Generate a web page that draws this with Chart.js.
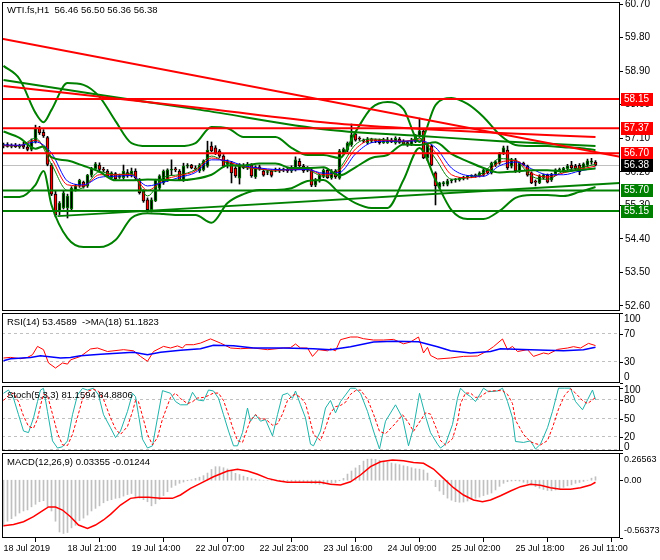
<!DOCTYPE html>
<html>
<head>
<meta charset="utf-8">
<title>WTI.fs H1</title>
<script src="https://cdn.jsdelivr.net/npm/chart.js@4.4.1/dist/chart.umd.min.js"></script>
<style>
  html, body { margin: 0; padding: 0; background: #fff; }
  #wrap { position: relative; width: 660px; height: 560px; overflow: hidden; }
  #wrap canvas { position: absolute; left: 0; }
  .hdr { position: absolute; left: 7px; font: 9.5px "Liberation Sans", Arial, sans-serif; color: #000; white-space: pre; line-height: 12px; }
</style>
</head>
<body>
<div id="wrap">
  <canvas id="mainPane" width="660" height="313" style="top:0"></canvas>
  <canvas id="rsiPane" width="660" height="73" style="top:312px"></canvas>
  <canvas id="stochPane" width="660" height="68" style="top:385px"></canvas>
  <canvas id="macdPane" width="660" height="108" style="top:452px"></canvas>
  <div class="hdr" id="mainHdr" style="top:4px"></div>
  <div class="hdr" id="rsiHdr" style="top:316px"></div>
  <div class="hdr" id="stochHdr" style="top:389px"></div>
  <div class="hdr" id="macdHdr" style="top:456px"></div>
</div>
<script>
const FONT = '"Liberation Sans", Arial, sans-serif';
// bar index range shown (4px per H1 bar)
const X_MIN = -0.375, X_MAX = 154.125;

// ---- H1 candles, one per bar ----
const opens = [56.90,56.93,56.88,56.91,56.87,56.91,56.86,56.80,57.00,57.37,
 57.26,57.12,56.38,55.60,55.12,55.23,55.23,55.20,55.72,55.82,
 55.92,55.82,56.11,56.28,56.38,56.26,56.22,56.04,56.15,56.05,
 56.04,56.18,56.12,56.22,55.98,55.68,55.45,55.18,55.42,55.76,
 55.90,55.98,56.24,56.26,56.22,55.98,56.35,56.38,56.30,56.22,
 56.25,56.35,56.89,56.84,56.76,56.62,56.40,56.43,56.30,56.03,
 56.36,56.31,56.38,56.06,56.33,56.22,56.18,56.22,56.24,56.24,
 56.25,56.26,56.22,56.25,56.48,56.35,56.30,56.25,55.84,55.95,
 56.08,56.24,56.04,56.22,56.03,56.70,56.78,56.92,57.21,57.10,
 57.04,56.98,57.02,57.06,57.04,56.98,56.98,57.06,56.98,57.08,
 57.02,56.98,56.92,57.00,57.16,57.29,56.57,56.89,56.17,55.78,
 55.88,55.86,55.96,55.98,55.99,56.03,56.05,56.08,56.10,56.09,
 56.11,56.24,56.17,56.38,56.43,56.70,56.78,56.35,56.52,56.22,
 56.43,56.35,56.17,55.94,55.90,56.04,56.11,55.98,56.14,56.24,
 56.22,56.28,56.38,56.36,56.37,56.30,56.38,56.46,56.46];
const highs = [56.97,56.98,56.95,56.96,56.94,56.99,56.92,57.08,57.45,57.42,
 57.33,57.15,56.42,55.68,55.40,55.68,55.60,55.80,55.86,56.00,
 55.95,56.13,56.32,56.45,56.44,56.32,56.26,56.20,56.18,56.14,
 56.38,56.26,56.30,56.28,56.02,55.72,55.50,55.50,56.00,56.12,
 56.25,56.28,56.52,56.32,56.26,56.43,56.42,56.40,56.36,56.42,
 56.52,57.02,57.00,56.90,56.80,56.66,56.52,56.48,56.34,56.42,
 56.42,56.45,56.42,56.36,56.38,56.26,56.24,56.25,56.30,56.30,
 56.30,56.30,56.36,56.60,56.55,56.40,56.34,56.30,56.02,56.14,
 56.28,56.28,56.26,56.26,56.80,56.84,57.00,57.48,57.26,57.14,
 57.08,57.12,57.10,57.08,57.08,57.10,57.12,57.10,57.14,57.12,
 57.06,57.02,57.10,57.20,57.64,57.34,56.96,56.92,56.20,55.92,
 55.94,56.00,56.00,56.02,56.05,56.08,56.10,56.12,56.14,56.20,
 56.28,56.28,56.46,56.50,56.72,56.89,56.89,56.56,56.56,56.46,
 56.46,56.38,56.20,55.98,56.12,56.14,56.14,56.16,56.28,56.30,
 56.32,56.40,56.48,56.40,56.42,56.44,56.54,56.56,56.50];
const lows = [56.84,56.86,56.84,56.85,56.83,56.82,56.76,56.76,56.97,57.20,
 57.12,56.36,55.56,54.99,55.05,55.20,54.96,55.15,55.68,55.78,
 55.76,55.78,56.06,56.25,56.22,56.20,56.06,56.00,55.98,56.02,
 56.00,56.05,56.06,55.98,55.60,55.38,55.12,55.12,55.40,55.72,
 55.86,55.94,56.10,56.20,55.96,55.94,56.30,56.28,56.24,56.18,
 56.22,56.32,56.74,56.66,56.58,56.32,56.30,55.90,56.05,55.87,
 56.28,56.26,56.05,56.02,56.24,56.08,56.12,56.06,56.20,56.18,
 56.20,56.18,56.18,56.22,56.32,56.18,56.20,55.80,55.80,55.92,
 56.04,56.02,56.00,56.02,56.00,56.66,56.74,56.88,57.02,57.04,
 56.98,56.94,56.98,56.98,56.94,56.96,56.96,56.98,56.94,56.96,
 56.92,56.88,56.90,56.98,57.12,56.55,56.50,56.36,55.31,55.74,
 55.82,55.82,55.90,55.92,55.95,55.98,56.00,56.04,56.05,56.06,
 56.08,56.14,56.14,56.34,56.40,56.66,56.26,56.30,56.18,56.18,
 56.36,56.08,55.88,55.82,55.88,56.00,55.90,55.94,56.10,56.20,
 56.18,56.24,56.26,56.24,56.12,56.26,56.34,56.40,56.36];
const closes = [56.93,56.88,56.91,56.87,56.91,56.86,56.80,57.02,57.37,57.24,
 57.16,56.40,55.60,55.05,55.36,55.63,55.55,55.76,55.82,55.97,
 55.80,56.11,56.30,56.41,56.26,56.24,56.09,56.17,56.01,56.10,
 56.22,56.10,56.22,56.04,55.64,55.42,55.18,55.45,55.98,56.09,
 56.22,56.25,56.26,56.25,55.98,56.35,56.38,56.30,56.27,56.38,
 56.49,56.78,56.76,56.70,56.62,56.35,56.47,56.17,56.09,56.38,
 56.31,56.40,56.09,56.33,56.28,56.11,56.20,56.10,56.26,56.22,
 56.26,56.22,56.32,56.52,56.36,56.22,56.24,55.84,55.98,56.11,
 56.24,56.04,56.20,56.06,56.76,56.81,56.97,57.19,57.05,57.08,
 57.02,57.08,57.08,57.02,56.98,57.06,57.06,57.00,57.10,56.99,
 56.94,56.92,57.06,57.16,57.30,56.57,56.92,56.38,55.82,55.90,
 55.90,55.96,55.98,55.99,56.03,56.05,56.08,56.10,56.09,56.17,
 56.25,56.17,56.43,56.47,56.70,56.84,56.30,56.52,56.22,56.43,
 56.39,56.11,55.90,55.92,56.09,56.12,55.92,56.14,56.25,56.27,
 56.30,56.36,56.30,56.28,56.20,56.41,56.49,56.46,56.38];

// ---- time axis ----
const timeTickBars = [0,16,32,48,64,80,96,112,128,144];
const timeLabels = ['18 Jul 2019','18 Jul 21:00','19 Jul 14:00','22 Jul 07:00','22 Jul 23:00',
  '23 Jul 16:00','24 Jul 09:00','25 Jul 02:00','25 Jul 18:00','26 Jul 11:00'];
const priceTicks = [52.60,53.50,54.40,55.30,56.20,57.10,58.00,58.90,59.80,60.70];

// ---- chart objects ----
const redLevels = [58.15, 57.37, 56.70];
const greenLevels = [55.70, 55.15];
const redTrendBars = [X_MIN, X_MAX];
const redTrend = [59.77, 56.60];
const greenTrendBars = [13.5, X_MAX];
const greenTrend = [55.01, 55.90];

// ---- Bollinger bands ----
const bandBars = [0,4,8,10,12,16,20,24,28,32,36,40,44,48,52,56,60,64,68,72,76,80,84,88,92,96,100,104,108,112,116,120,124,128,132,136,140,144,148];
const bbUpper = [59.04,58.69,57.78,57.53,57.86,58.58,58.53,58.21,57.56,56.97,56.89,56.89,56.89,56.97,57.40,57.37,57.13,57.13,57.13,56.84,56.65,56.65,56.57,57.27,57.91,58.07,57.88,57.00,57.99,58.18,58.02,57.67,57.20,56.92,56.89,56.89,56.86,56.84,56.78];
const bbMiddle = [57.28,57.11,56.82,56.88,56.59,56.50,56.36,56.20,55.97,55.97,55.99,55.98,55.97,56.01,56.12,56.37,56.37,56.42,56.42,56.30,56.30,56.32,56.10,56.32,56.57,56.65,56.93,56.92,56.99,56.68,56.48,56.30,56.18,56.21,56.24,56.24,56.21,56.25,56.29];
const bbLower = [55.52,55.52,55.85,56.22,55.31,54.42,54.18,54.18,54.37,54.96,55.09,55.07,55.04,55.04,54.83,55.36,55.60,55.71,55.71,55.76,55.95,55.98,55.63,55.36,55.23,55.23,55.98,56.84,55.98,55.17,54.93,54.93,55.15,55.50,55.58,55.58,55.55,55.66,55.79];

// ---- long moving averages ----
const longGreenBars = [0,24.25,49.25,81.75,104.25,124.25,148];
const longGreen = [58.66,58.26,57.86,57.32,57.16,57.02,56.89];
const longRedBars = [0,49.25,81.75,104.25,124.25,148];
const longRed = [58.50,57.91,57.51,57.35,57.24,57.13];

// ---- short moving averages ----
const maBars = [0,4,8,12,16,20,24,28,32,36,40,44,48,52,56,60,64,68,72,76,80,84,88,92,96,100,104,108,112,116,120,124,128,132,136,140,144,148];
const maFast = [56.90,56.90,57.10,56.40,55.70,55.78,56.20,56.12,56.15,55.55,56.05,56.12,56.26,56.62,56.43,56.32,56.27,56.22,56.28,56.25,56.08,56.30,56.93,57.08,57.05,57.00,57.10,56.55,56.00,56.04,56.18,56.55,56.50,56.08,56.00,56.22,56.30,56.40];
const maMid = [56.90,56.90,57.05,56.55,55.85,55.82,56.12,56.12,56.12,55.70,55.98,56.10,56.22,56.57,56.47,56.34,56.28,56.24,56.26,56.26,56.12,56.24,56.81,57.05,57.04,57.02,57.06,56.72,56.12,56.04,56.12,56.45,56.50,56.16,56.06,56.17,56.27,56.35];
const maSlow = [56.92,56.91,57.00,56.70,55.95,55.85,56.05,56.08,56.10,55.82,55.92,56.05,56.18,56.52,56.50,56.36,56.30,56.26,56.25,56.26,56.16,56.18,56.68,56.98,57.02,57.02,57.03,56.85,56.30,56.10,56.08,56.36,56.46,56.28,56.12,56.12,56.22,56.30];

// ---- RSI(14) and its MA(18) ----
const rsiBars = [0,1.75,4.25,6,7.25,8.5,10,11.25,13,14.75,16,16.75,19.25,21.75,23.5,26,30,32.5,34.25,36,
 37.5,40,41.75,43.5,44.75,45.5,47.5,49.25,51.75,54.25,56.75,59.25,62.5,66,70,71.75,73,74.25,76,77.25,
 78.75,81,81.75,83,84.25,86.75,88.5,90,92.5,95,97.5,100,101.75,103.75,105,106,106.75,108.5,111.75,115,
 118.5,121,122.5,124.75,126,127.25,128.5,131,132.5,135,136.25,138.5,141,142.5,144.25,146.25,148];
const rsiValues = [35.7,36.6,34.7,36.6,40.4,52.3,47.6,28.6,21.4,28.6,27,33,38,48.6,50,45,47.6,46,38,31,
 45,52.3,50,53,50,54.7,54.7,57,63,57,50,49,50,47.6,50,50.5,55.7,50,50,38,
 47.6,46,49,46,61.9,65.7,65.7,63.3,61.4,61.4,62.3,56,58.6,65.7,42.9,50.9,39.4,34.3,35.7,38,
 38.6,46,51.9,62.9,47.6,52.3,45,47.6,38,42.9,41.4,48,50,51.9,50,56.6,53.46];
const rsiMaBars = [0,1.75,6.75,9.25,14.25,16.75,19.25,24.25,32.5,36,39.25,44.25,49.25,52.5,57.5,62.5,70,77.5,81.75,86.75,92.5,97.5,103.75,108.5,111.75,116.75,121.75,124.25,131.75,140,145,148];
const rsiMa = [31.9,34.7,36.6,39,35.7,36.6,39,41,43.8,40.4,43.8,46.7,49,53.8,53.3,50,50,49,47.6,51.9,58.6,59.5,59,51.9,46,42.9,45,49,47.6,46,47.6,51.18];
const rsiTicks = [100, 70, 30, 0];
const rsiLevels = [70, 30];

// ---- Stochastic(5,3,3) ----
const stochBars = [0,1.25,2.5,3.75,5,6.25,7.5,8.5,9.25,10,
 11,12.25,13.5,14.75,16,17.25,18.5,19.75,21,22.5,
 23.75,25,26.75,28,29.25,31,32.25,33,33.75,34.75,
 36,37.25,38.5,39.75,41.75,43,44.25,46,47.25,48.5,
 50,51.25,52.5,53.75,55,56.25,57.5,58.5,59.75,61,
 61.75,63,64.25,65.5,67.25,68.5,69.75,71,72.25,73,
 74.25,75.5,76.75,77.5,79.25,80.5,81.75,83,84.25,85.5,
 86.75,88,89.25,91,92.5,94,95.5,98,99.75,101.25,
 102.5,104,105.5,106.75,108.5,109.25,110.5,112.25,113.5,114.25,
 115.5,116.75,118,119.25,120,121.25,123.5,124.75,126,127.25,
 128,130,131.75,133,134.25,136,137.25,138.75,140.25,141.75,
 143,144.75,146,147.25,148];
const stochK = [91.7,97,83.7,57,30.5,27.9,51.8,78.3,97,99.7,
 61.9,14.5,2.9,5,14.5,57,89,99.7,97,100,
 89,57,35.9,19.9,30.5,62.4,91.7,86.3,57,17.2,
 2.9,6.5,51.8,96,91.7,78.3,73,73,93.3,81,
 79.4,97,95.4,83.7,57,30.5,6.5,6.5,27.9,67.8,
 46.4,57,46.4,49.1,22.5,57,89,91.7,83.7,95.4,
 73,51.8,9.2,6.5,30.5,67.8,80,59.8,78.3,89,
 100,99.7,91.7,62.4,30.5,1.3,46.4,73,51.8,6.5,
 35.9,91.7,54.4,27.9,9.2,2.9,9.2,41.1,83.7,100,
 91.7,86.3,78.3,91.7,100,94.3,95.4,100,78.3,51.8,
 13.5,12,14.5,1.3,9.2,35.9,62.4,100,100,100,
 78.3,65,81,97,81.16];
const stochD = [80,88,92,78,55,38,35,50,72,90,
 88,58,27,8,7,25,53,82,95,98,
 95,82,52,34,25,38,62,80,78,55,
 25,8,20,50,85,92,83,75,78,84,
 85,88,92,92,80,57,32,15,12,35,
 48,57,50,50,40,42,58,80,88,90,
 85,75,45,25,15,36,60,70,72,77,
 90,96,97,82,58,30,26,43,57,44,
 30,45,60,58,30,15,8,18,45,75,
 92,92,85,86,90,95,96,96,90,75,
 48,25,13,10,8,15,36,66,88,99,
 92,80,75,81,84.88];
const stochTicks = [100, 80, 50, 20, 0];
const stochLevels = [80, 50, 20, 0];

// ---- MACD(12,26,9): histogram per bar, signal line ----
const macdHist = [-0.45,-0.40,-0.375,-0.35,-0.32,-0.30,-0.29,-0.26,-0.235,-0.21,
 -0.20,-0.26,-0.30,-0.40,-0.505,-0.52,-0.51,-0.465,-0.44,-0.395,
 -0.37,-0.34,-0.30,-0.275,-0.25,-0.22,-0.20,-0.19,-0.177,-0.172,
 -0.155,-0.14,-0.13,-0.16,-0.175,-0.19,-0.21,-0.25,-0.23,-0.19,
 -0.15,-0.112,-0.07,-0.05,-0.03,-0.018,-0.005,0.005,0.018,0.03,
 0.045,0.07,0.105,0.132,0.132,0.122,0.11,0.095,0.067,0.055,
 0.04,0.028,0.016,0.009,0.003,0.0,0.0,-0.002,-0.004,-0.006,
 -0.008,-0.01,-0.012,-0.014,-0.015,-0.02,-0.025,-0.03,-0.035,-0.04,
 -0.038,-0.033,-0.03,-0.022,-0.005,0.018,0.06,0.09,0.12,0.145,
 0.187,0.205,0.207,0.203,0.195,0.187,0.177,0.168,0.16,0.152,
 0.141,0.134,0.122,0.112,0.108,0.10,0.07,0.0,-0.063,-0.105,
 -0.14,-0.175,-0.195,-0.21,-0.215,-0.213,-0.203,-0.19,-0.177,-0.165,
 -0.15,-0.138,-0.125,-0.095,-0.06,-0.03,-0.015,-0.008,-0.005,-0.008,
 -0.02,-0.03,-0.045,-0.063,-0.078,-0.09,-0.1,-0.103,-0.095,-0.083,
 -0.07,-0.055,-0.045,-0.03,-0.022,-0.012,0.0,0.02,0.034];
const macdSigBars = [0,2.5,5,7.5,10,11.25,13,14.75,16.75,18.75,21,23,25,26.75,29.25,31.75,33.75,36.25,39.25,42.25,
 44.25,46.75,49.25,52.5,56,58.5,61,63.5,66,68.5,71,79.25,81.75,84.25,86.75,89.25,91.75,94.25,97.25,100,
 102.5,105,107.5,110,112.5,115,117.5,119.75,121.75,124.25,126.75,129.25,131.75,134.25,136.75,139.25,141.75,144.25,146.75,148];
const macdSignal = [-0.444,-0.431,-0.405,-0.356,-0.291,-0.261,-0.261,-0.291,-0.356,-0.437,-0.47,-0.437,-0.388,-0.333,-0.242,-0.177,-0.167,-0.167,-0.177,-0.177,
 -0.144,-0.079,-0.03,0.034,0.09,0.106,0.09,0.058,0.018,-0.005,-0.02,-0.02,-0.04,-0.047,-0.015,0.051,0.132,0.18,0.197,0.19,
 0.174,0.165,0.109,0.018,-0.073,-0.144,-0.193,-0.21,-0.193,-0.151,-0.105,-0.063,-0.04,-0.05,-0.073,-0.089,-0.089,-0.073,-0.047,-0.02];
const macdTicks = [0.26563, 0, -0.56373];
const macdTickLabels = ['0.26563', '0.00', '-0.56373'];

// ---- header texts ----
const last = closes.length - 1;
document.getElementById('mainHdr').textContent =
  'WTI.fs,H1  ' + [opens[last], highs[last], lows[last], closes[last]].map(v => v.toFixed(2)).join(' ');
document.getElementById('rsiHdr').textContent = 'RSI(14) 53.4589  ->MA(18) 51.1823';
document.getElementById('stochHdr').textContent = 'Stoch(5,3,3) 81.1594 84.8806';
document.getElementById('macdHdr').textContent = 'MACD(12,26,9) 0.03355 -0.01244';

// ---- helpers ----
const pts = (xs, ys) => xs.map((x, i) => ({x: x, y: ys[i]}));
const span = v => [{x: X_MIN, y: v}, {x: X_MAX, y: v}];
const barIdx = closes.map((_, i) => i);

function line(data, color, width, extra) {
  return Object.assign({type: 'line', data: data, borderColor: color, borderWidth: width,
    pointRadius: 0, fill: false, tension: 0, order: 1}, extra || {});
}

// frame, dashed levels, side labels and price tags
const paneDecor = {
  id: 'paneDecor',
  beforeDatasetsDraw(chart, args, o) {
    const {ctx, chartArea: a} = chart;
    const y = chart.scales.y;
    ctx.save();
    ctx.lineWidth = 1;
    ctx.strokeStyle = '#c0c0c0';
    ctx.setLineDash([3, 3]);
    (o.levels || []).forEach(v => {
      const py = Math.round(y.getPixelForValue(v)) - 0.5;
      ctx.beginPath(); ctx.moveTo(a.left, py); ctx.lineTo(a.right, py); ctx.stroke();
    });
    ctx.setLineDash([]);
    if (o.bid !== undefined) {
      const py = Math.round(y.getPixelForValue(o.bid)) + 0.5;
      ctx.beginPath(); ctx.moveTo(a.left, py); ctx.lineTo(a.right, py); ctx.stroke();
    }
    ctx.restore();
  },
  afterDraw(chart, args, o) {
    const {ctx, chartArea: a} = chart;
    const y = chart.scales.y;
    ctx.save();
    ctx.strokeStyle = '#000';
    ctx.lineWidth = 1;
    ctx.strokeRect(a.left + 0.5, a.top + 0.5, a.right - a.left - 1, a.bottom - a.top - 1);
    ctx.font = (o.fontSize || 10) + 'px ' + FONT;
    ctx.textBaseline = 'middle';
    ctx.textAlign = 'left';
    ctx.fillStyle = '#000';
    (o.sideTicks || []).forEach((v, k) => {
      const py = y.getPixelForValue(v);
      const ty = Math.round(py) + 0.5;
      ctx.beginPath(); ctx.moveTo(a.right, ty); ctx.lineTo(a.right + 3, ty); ctx.stroke();
      const inset = o.inset || 6;
      const ly = Math.min(Math.max(py, a.top + inset), a.bottom - inset);
      ctx.fillText(o.sideLabels[k], a.right + 4, ly);
    });
    (o.tags || []).forEach(t => {
      const py = Math.round(y.getPixelForValue(t.v));
      ctx.fillStyle = t.bg;
      ctx.fillRect(a.right + 1, py - 6, 32, 13);
      ctx.fillStyle = '#fff';
      ctx.fillText(t.v.toFixed(2), a.right + 4, py + 0.5);
    });
    ctx.restore();
  }
};

function baseOptions(padTop, padBottom, yScale, xScale, decor) {
  return {
    responsive: false,
    animation: false,
    events: [],
    layout: {padding: {left: 2, right: 0, top: padTop, bottom: padBottom}},
    scales: {x: xScale, y: yScale},
    plugins: {legend: {display: false}, tooltip: {enabled: false}, paneDecor: decor}
  };
}
const hiddenX = {type: 'linear', min: X_MIN, max: X_MAX, offset: false, display: false};
function fitY(s) { s.width = 40; s.paddingTop = 0; s.paddingBottom = 0; }
function subY(min, max) {
  return {position: 'right', min: min, max: max, ticks: {display: false},
    grid: {display: false}, border: {display: false}, afterFit: fitY};
}

// ---- main price pane ----
const bull = i => closes[i] >= opens[i];
new Chart(document.getElementById('mainPane'), {
  type: 'line',
  data: {
    datasets: [
      {type: 'bar', order: 6, grouped: false, barThickness: 1,
        data: barIdx.map(i => ({x: i, y: [lows[i], highs[i]]})),
        backgroundColor: '#000', borderWidth: 0},
      {type: 'bar', order: 5, grouped: false, barThickness: 3, minBarLength: 1,
        data: barIdx.map(i => ({x: i, y: [opens[i], closes[i]]})),
        backgroundColor: c => bull(c.dataIndex) ? '#000' : '#ff0000',
        borderColor: c => bull(c.dataIndex) ? '#008000' : '#000',
        borderWidth: 1, borderSkipped: false},
      ...redLevels.map(v => line(span(v), '#ff0000', 2)),
      ...greenLevels.map(v => line(span(v), '#008000', 2)),
      line(pts(redTrendBars, redTrend), '#ff0000', 2),
      line(pts(greenTrendBars, greenTrend), '#008000', 2),
      line(pts(longRedBars, longRed), '#ff0000', 2, {cubicInterpolationMode: 'monotone'}),
      line(pts(longGreenBars, longGreen), '#008000', 2, {cubicInterpolationMode: 'monotone'}),
      line(pts(bandBars, bbUpper), '#008000', 2, {cubicInterpolationMode: 'monotone'}),
      line(pts(bandBars, bbMiddle), '#008000', 2, {cubicInterpolationMode: 'monotone'}),
      line(pts(bandBars, bbLower), '#008000', 2, {cubicInterpolationMode: 'monotone'}),
      line(pts(maBars, maSlow), '#0000ff', 1, {cubicInterpolationMode: 'monotone'}),
      line(pts(maBars, maMid), '#ff0000', 1, {cubicInterpolationMode: 'monotone'}),
      line(pts(maBars, maFast), '#008000', 1, {cubicInterpolationMode: 'monotone'})
    ]
  },
  options: baseOptions(2, 2, {
    position: 'right', min: 52.465, max: 60.754,
    afterBuildTicks: s => { s.ticks = priceTicks.map(v => ({value: v})); },
    ticks: {color: '#000', font: {family: FONT, size: 10}, padding: 2, autoSkip: false,
      callback: v => v.toFixed(2)},
    grid: {display: true, drawOnChartArea: false, drawTicks: true, tickLength: 3, color: '#000'},
    border: {display: false},
    afterFit: fitY
  }, hiddenX, {
    bid: closes[last],
    tags: [
      ...redLevels.map(v => ({v: v, bg: '#ff0000'})),
      {v: closes[last], bg: '#000'},
      ...greenLevels.map(v => ({v: v, bg: '#008000'}))
    ]
  }),
  plugins: [paneDecor]
});

// ---- RSI pane ----
new Chart(document.getElementById('rsiPane'), {
  type: 'line',
  data: {datasets: [
    line(pts(rsiMaBars, rsiMa), '#0000ff', 1.5),
    line(pts(rsiBars, rsiValues), '#ff0000', 1)
  ]},
  options: baseOptions(1, 2, subY(0, 100), hiddenX,
    {levels: rsiLevels, sideTicks: rsiTicks, sideLabels: rsiTicks.map(String), inset: 6}),
  plugins: [paneDecor]
});

// ---- Stochastic pane ----
new Chart(document.getElementById('stochPane'), {
  type: 'line',
  data: {datasets: [
    line(pts(stochBars, stochD), '#ff0000', 1, {borderDash: [3, 2]}),
    line(pts(stochBars, stochK), '#20b2aa', 1)
  ]},
  options: baseOptions(1, 2, subY(-1.9, 103.5), hiddenX,
    {levels: stochLevels, sideTicks: stochTicks, sideLabels: stochTicks.map(String), inset: 4}),
  plugins: [paneDecor]
});

// ---- MACD pane with the time axis ----
new Chart(document.getElementById('macdPane'), {
  type: 'line',
  data: {datasets: [
    {type: 'bar', order: 3, grouped: false, barThickness: 1,
      data: pts(barIdx, macdHist), backgroundColor: '#c0c0c0', borderWidth: 0},
    line(pts(macdSigBars, macdSignal), '#ff0000', 1.5)
  ]},
  options: baseOptions(1, 0, subY(-0.56373, 0.26563), {
    type: 'linear', min: X_MIN, max: X_MAX, offset: false, position: 'bottom',
    afterBuildTicks: s => { s.ticks = timeTickBars.map(v => ({value: v})); },
    ticks: {autoSkip: false, maxRotation: 0, align: 'start', padding: 1, color: '#000',
      font: {family: FONT, size: 9}, callback: (v, i) => timeLabels[i]},
    grid: {display: true, drawOnChartArea: false, drawTicks: true, tickLength: 4, color: '#000'},
    border: {display: false},
    afterFit: s => { s.height = 22; s.paddingLeft = 0; s.paddingRight = 0; }
  }, {sideTicks: macdTicks, sideLabels: macdTickLabels, inset: 7, fontSize: 9}),
  plugins: [paneDecor]
});
</script>
</body>
</html>
